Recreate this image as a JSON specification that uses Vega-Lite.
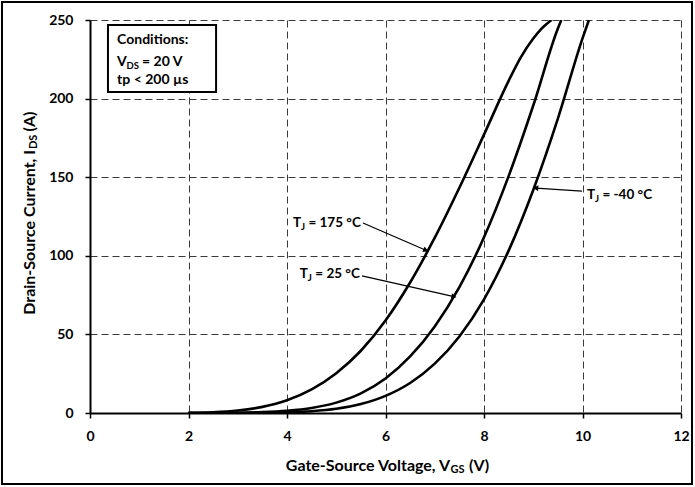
{
  "$schema": "https://vega.github.io/schema/vega-lite/v6.json",
  "width": 591,
  "height": 393,
  "autosize": {"type": "none"},
  "padding": {"left": 90, "top": 20, "right": 14, "bottom": 74},
  "background": "white",
  "config": {"view": {"stroke": null}, "font": "Lato"},
  "datasets": {
    "frame": [{"V": -1.787, "V2": 12.223, "I": 261.45, "I2": -45.17}],
    "box": [{"V": 0.365, "V2": 2.56, "I": 246.8, "I2": 204.2}],
    "curves": [
      {"series": "175", "V": 2.0, "I": 0.1},
      {"series": "175", "V": 2.5, "I": 0.47},
      {"series": "175", "V": 3.0, "I": 1.57},
      {"series": "175", "V": 3.5, "I": 3.9},
      {"series": "175", "V": 4.0, "I": 8.1},
      {"series": "175", "V": 4.5, "I": 15.0},
      {"series": "175", "V": 5.0, "I": 25.3},
      {"series": "175", "V": 5.5, "I": 39.6},
      {"series": "175", "V": 6.0, "I": 58.8},
      {"series": "175", "V": 6.5, "I": 83},
      {"series": "175", "V": 7.0, "I": 111.5},
      {"series": "175", "V": 7.5, "I": 143.3},
      {"series": "175", "V": 8.0, "I": 177.1},
      {"series": "175", "V": 8.5, "I": 211.3},
      {"series": "175", "V": 8.75, "I": 226.4},
      {"series": "175", "V": 9.0, "I": 238.2},
      {"series": "175", "V": 9.15, "I": 243.9},
      {"series": "175", "V": 9.37, "I": 250},
      {"series": "25", "V": 2.0, "I": 0},
      {"series": "25", "V": 2.5, "I": 0.02},
      {"series": "25", "V": 3.0, "I": 0.16},
      {"series": "25", "V": 3.5, "I": 0.56},
      {"series": "25", "V": 4.0, "I": 1.44},
      {"series": "25", "V": 4.5, "I": 3.2},
      {"series": "25", "V": 5.0, "I": 6.6},
      {"series": "25", "V": 5.5, "I": 12.5},
      {"series": "25", "V": 6.0, "I": 22},
      {"series": "25", "V": 6.5, "I": 36},
      {"series": "25", "V": 7.0, "I": 55.1},
      {"series": "25", "V": 7.5, "I": 80.1},
      {"series": "25", "V": 8.0, "I": 111.8},
      {"series": "25", "V": 8.5, "I": 150.7},
      {"series": "25", "V": 9.0, "I": 195.6},
      {"series": "25", "V": 9.5, "I": 244.6},
      {"series": "25", "V": 9.57, "I": 250},
      {"series": "-40", "V": 2.0, "I": 0},
      {"series": "-40", "V": 2.5, "I": 0},
      {"series": "-40", "V": 3.0, "I": 0.02},
      {"series": "-40", "V": 3.5, "I": 0.12},
      {"series": "-40", "V": 4.0, "I": 0.42},
      {"series": "-40", "V": 4.5, "I": 1.16},
      {"series": "-40", "V": 5.0, "I": 2.7},
      {"series": "-40", "V": 5.5, "I": 5.7},
      {"series": "-40", "V": 6.0, "I": 10.9},
      {"series": "-40", "V": 6.5, "I": 19.1},
      {"series": "-40", "V": 7.0, "I": 31.4},
      {"series": "-40", "V": 7.5, "I": 48.7},
      {"series": "-40", "V": 8.0, "I": 72.3},
      {"series": "-40", "V": 8.5, "I": 103.3},
      {"series": "-40", "V": 9.0, "I": 141.9},
      {"series": "-40", "V": 9.5, "I": 187.3},
      {"series": "-40", "V": 10.0, "I": 238.3},
      {"series": "-40", "V": 10.13, "I": 250}
    ],
    "arrows": [
      {"series": "175", "V": 5.543, "I": 120.9, "V2": 6.82, "I2": 103.5},
      {"series": "25", "V": 5.523, "I": 87.2, "V2": 7.39, "I2": 74.0},
      {"series": "-40", "V": 9.99, "I": 141.2, "V2": 9.05, "I2": 143.1}
    ],
    "labels": [
      {"series": "175", "V": 4.12, "I": 120.9, "rest": "= 175 °C"},
      {"series": "25", "V": 4.26, "I": 88.4, "rest": "= 25 °C"},
      {"series": "-40", "V": 10.09, "I": 138.7, "rest": "= -40 °C"}
    ],
    "cond": [
      {"V": 0.55, "I": 237.3, "text": "Conditions:"},
      {"V": 0.55, "I": 211.8, "text": "tp < 200 µs"}
    ],
    "vds": [{"V": 0.55, "I": 223.3}],
    "xtitle": [{"V": 7.31, "I": -33.7}],
    "ytitle": [{"V": -1.22, "I": 167.3}]
  },
  "encoding": {
    "x": {
      "field": "V", "type": "quantitative",
      "scale": {"domain": [0, 12], "nice": false, "zero": false},
      "axis": {
        "title": null, "values": [0, 2, 4, 6, 8, 10, 12], "format": "d",
        "labelFont": "Lato", "labelFontSize": 14, "labelFontWeight": "bold", "labelColor": "black",
        "labelPadding": 11, "labelFlush": false,
        "tickColor": "black", "tickSize": 5, "tickWidth": 1.5,
        "domainColor": "black", "domainWidth": 2,
        "grid": true, "gridColor": "#3a3a3a", "gridDash": [7, 4], "gridWidth": 1
      }
    },
    "y": {
      "field": "I", "type": "quantitative",
      "scale": {"domain": [0, 250], "nice": false, "zero": false},
      "axis": {
        "title": null, "values": [0, 50, 100, 150, 200, 250], "format": "d",
        "labelFont": "Lato", "labelFontSize": 14, "labelFontWeight": "bold", "labelColor": "black",
        "labelPadding": 12, "labelFlush": false,
        "tickColor": "black", "tickSize": 5, "tickWidth": 1.5,
        "domainColor": "black", "domainWidth": 2,
        "grid": true, "gridColor": "#3a3a3a", "gridDash": [7, 4], "gridWidth": 1
      }
    }
  },
  "layer": [
    {
      "data": {"name": "frame"},
      "mark": {"type": "rect", "fill": null, "stroke": "black", "strokeWidth": 2, "clip": false},
      "encoding": {"x2": {"field": "V2"}, "y2": {"field": "I2"}}
    },
    {
      "data": {"name": "box"},
      "mark": {"type": "rect", "fill": "white", "stroke": "black", "strokeWidth": 2},
      "encoding": {"x2": {"field": "V2"}, "y2": {"field": "I2"}}
    },
    {
      "data": {"name": "curves"},
      "mark": {"type": "line", "color": "black", "strokeWidth": 2.6, "interpolate": "monotone", "clip": true},
      "encoding": {"detail": {"field": "series"}, "order": {"field": "V", "type": "quantitative"}}
    },
    {
      "data": {"name": "arrows"},
      "mark": {"type": "rule", "color": "black", "strokeWidth": 1.2},
      "encoding": {"x2": {"field": "V2"}, "y2": {"field": "I2"}}
    },
    {
      "data": {"name": "arrows"},
      "transform": [{"filter": "datum.series == '175'"}],
      "mark": {"type": "point", "shape": "triangle-right", "filled": true, "color": "black", "size": 35, "angle": 22, "opacity": 1},
      "encoding": {"x": {"field": "V2", "type": "quantitative"}, "y": {"field": "I2", "type": "quantitative"}}
    },
    {
      "data": {"name": "arrows"},
      "transform": [{"filter": "datum.series == '25'"}],
      "mark": {"type": "point", "shape": "triangle-right", "filled": true, "color": "black", "size": 35, "angle": 13, "opacity": 1},
      "encoding": {"x": {"field": "V2", "type": "quantitative"}, "y": {"field": "I2", "type": "quantitative"}}
    },
    {
      "data": {"name": "arrows"},
      "transform": [{"filter": "datum.series == '-40'"}],
      "mark": {"type": "point", "shape": "triangle-right", "filled": true, "color": "black", "size": 35, "angle": 184, "opacity": 1},
      "encoding": {"x": {"field": "V2", "type": "quantitative"}, "y": {"field": "I2", "type": "quantitative"}}
    },
    {
      "data": {"name": "labels"},
      "mark": {"type": "text", "text": "T", "align": "left", "baseline": "middle", "font": "Lato", "fontSize": 13.5, "fontWeight": "bold", "color": "black"}
    },
    {
      "data": {"name": "labels"},
      "mark": {"type": "text", "text": "J", "align": "left", "baseline": "middle", "dx": 8, "dy": 4, "font": "Lato", "fontSize": 9.5, "fontWeight": "bold", "color": "black"}
    },
    {
      "data": {"name": "labels"},
      "mark": {"type": "text", "align": "left", "baseline": "middle", "dx": 15.5, "font": "Lato", "fontSize": 13.5, "fontWeight": "bold", "color": "black"},
      "encoding": {"text": {"field": "rest"}}
    },
    {
      "data": {"name": "cond"},
      "mark": {"type": "text", "align": "left", "baseline": "middle", "font": "Lato", "fontSize": 14, "fontWeight": "bold", "color": "black"},
      "encoding": {"text": {"field": "text"}}
    },
    {
      "data": {"name": "vds"},
      "mark": {"type": "text", "text": "V", "align": "left", "baseline": "middle", "font": "Lato", "fontSize": 14, "fontWeight": "bold", "color": "black"}
    },
    {
      "data": {"name": "vds"},
      "mark": {"type": "text", "text": "DS", "align": "left", "baseline": "middle", "dx": 9.5, "dy": 4, "font": "Lato", "fontSize": 9.5, "fontWeight": "bold", "color": "black"}
    },
    {
      "data": {"name": "vds"},
      "mark": {"type": "text", "text": "= 20 V", "align": "left", "baseline": "middle", "dx": 25, "font": "Lato", "fontSize": 14, "fontWeight": "bold", "color": "black"}
    },
    {
      "data": {"name": "xtitle"},
      "mark": {"type": "text", "text": "Gate-Source Voltage, V", "align": "right", "baseline": "middle", "font": "Lato", "fontSize": 16, "fontWeight": "bold", "color": "black", "clip": false}
    },
    {
      "data": {"name": "xtitle"},
      "mark": {"type": "text", "text": "GS", "align": "left", "baseline": "middle", "dx": 0.5, "dy": 4, "font": "Lato", "fontSize": 11, "fontWeight": "bold", "color": "black", "clip": false}
    },
    {
      "data": {"name": "xtitle"},
      "mark": {"type": "text", "text": "(V)", "align": "left", "baseline": "middle", "dx": 19, "font": "Lato", "fontSize": 16, "fontWeight": "bold", "color": "black", "clip": false}
    },
    {
      "data": {"name": "ytitle"},
      "mark": {"type": "text", "text": "Drain-Source Current, I", "align": "right", "baseline": "middle", "angle": 270, "font": "Lato", "fontSize": 16, "fontWeight": "bold", "color": "black", "clip": false}
    },
    {
      "data": {"name": "ytitle"},
      "mark": {"type": "text", "text": "DS", "align": "left", "baseline": "middle", "angle": 270, "dx": 1, "dy": 4, "font": "Lato", "fontSize": 11, "fontWeight": "bold", "color": "black", "clip": false}
    },
    {
      "data": {"name": "ytitle"},
      "mark": {"type": "text", "text": "(A)", "align": "left", "baseline": "middle", "angle": 270, "dx": 18.5, "font": "Lato", "fontSize": 16, "fontWeight": "bold", "color": "black", "clip": false}
    }
  ]
}
